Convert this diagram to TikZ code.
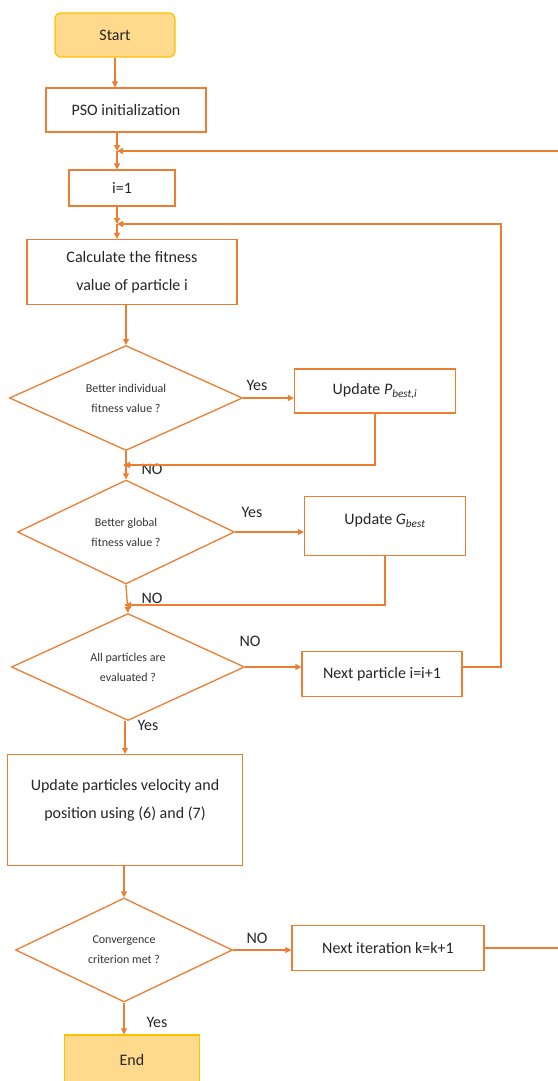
\documentclass[tikz,border=0pt]{standalone}
\usepackage{fontspec}
\setmainfont{Carlito}
\usepackage{xcolor}
\usepackage{tikz}
\usetikzlibrary{positioning, shapes.geometric, arrows.meta}
\definecolor{lineor}{HTML}{ED7D31}
\definecolor{termfill}{HTML}{FFD98C}
\definecolor{termline}{HTML}{FFC000}
\begin{document}
\begin{tikzpicture}[x=1pt,y=-1pt]
						\tikzstyle{box}=[draw=lineor,line width=1.3pt,fill=white,text=black!85,align=center,font=\fontsize{16}{28}\selectfont]
						\tikzstyle{term}=[box,draw=termline,fill=termfill]
						\tikzstyle{decision}=[diamond,draw=lineor,line width=1.3pt,inner sep=0pt,aspect=2.2,text=black!80,align=center,font=\fontsize{12}{20}\selectfont]
						\tikzstyle{lbl}=[text=black!85,font=\fontsize{16}{18}\selectfont]
						\tikzstyle{arr}=[draw=lineor,line width=1.3pt,-{Triangle[length=6pt,width=6pt]}]
						\tikzstyle{line}=[draw=lineor,line width=1.3pt]
						\useasboundingbox (0,0) rectangle (557,1081);
						\node[term,rounded corners=6pt,minimum width=120,minimum height=44](n1) at (115,35) {Start};
						\node[box,minimum width=160,minimum height=44](n2) at (126,110) {PSO initialization};
						\node[box,minimum width=106,minimum height=36](n3) at (122,188) {i=1};
						\node[box,minimum width=210,minimum height=65](n4) at (132,272) {Calculate the fitness\\value of particle i};
						\node[decision,minimum width=233,minimum height=105](d1) at (126,398) {Better individual\\fitness value ?};
						\node[box,minimum width=161,minimum height=44](n5) at (375,391) {Update \textit{P}\textsubscript{\textit{best,i}}};
						\node[decision,minimum width=217,minimum height=104](d2) at (126,532) {Better global\\fitness value ?};
						\node[box,minimum width=161,minimum height=59,text depth=14pt](n6) at (385,526) {Update \textit{G}\textsubscript{\textit{best}}};
						\node[decision,minimum width=233,minimum height=107](d3) at (128,667) {All particles are\\evaluated ?};
						\node[box,minimum width=160,minimum height=45](n7) at (382,674) {Next particle i=i+1};
						\node[box,minimum width=235,minimum height=111](n8) at (125,810) {Update particles velocity and\\position using (6) and (7)\\[-14pt]\strut};
						\node[decision,minimum width=217,minimum height=104](d4) at (124,950) {Convergence\\criterion met ?};
						\node[box,minimum width=192,minimum height=45](n9) at (388,948) {Next iteration k=k+1};
						\node[term,minimum width=135,minimum height=50](n10) at (132,1060) {End};
						\node[lbl](l1) at (257,385) {Yes};
						\node[lbl](l2) at (152,469) {NO};
						\node[lbl](l3) at (252,512) {Yes};
						\node[lbl](l4) at (152,598) {NO};
						\node[lbl](l5) at (250,641) {NO};
						\node[lbl](l6) at (148,725) {Yes};
						\node[lbl](l7) at (257,938) {NO};
						\node[lbl](l8) at (157,1022) {Yes};
						\coordinate(j1) at (117,151);
						\coordinate(j2) at (117,224);
						\coordinate(j3) at (124,465);
						\coordinate(j4) at (125,605);
						\coordinate(r1) at (565,151);
						\coordinate(r2) at (501,224);
						% main column
						\draw[arr](n1.south) -- (n1.south |- n2.north);
						\draw[arr](n2.south -| j1) -- (j1);
						\draw[arr](j1) -- (j1 |- n3.north);
						\draw[arr](n3.south -| j2) -- (j2);
						\draw[arr](j2) -- (j2 |- n4.north);
						\draw[arr](n4.south -| d1.north) -- (d1.north);
						\draw[arr](d1.south) -- (d2.north);
						\draw[arr](d2.south) -- (d3.north);
						\draw[arr](d3.south -| n8.north) -- (n8.north);
						\draw[arr](n8.south -| d4.north) -- (d4.north);
						\draw[arr](d4.south) -- (d4.south |- n10.north);
						% yes branches
						\draw[arr](d1.east) -- (d1.east -| n5.west);
						\draw[arr](d2.east) -- (d2.east -| n6.west);
						\draw[line](n5.south) |- (j3);
						\draw[arr](n5.south |- j3) -- (j3);
						\draw[line](n6.south) |- (j4);
						\draw[arr](n6.south |- j4) -- (j4);
						% loops
						\draw[arr](d3.east) -- (d3.east -| n7.west);
						\draw[arr](n7.east |- d3.east) -| (r2) -- (j2);
						\draw[arr](d4.east) -- (d4.east -| n9.west);
						\draw[arr](n9.east) -| (r1) -- (j1);
					\end{tikzpicture}
\end{document}
